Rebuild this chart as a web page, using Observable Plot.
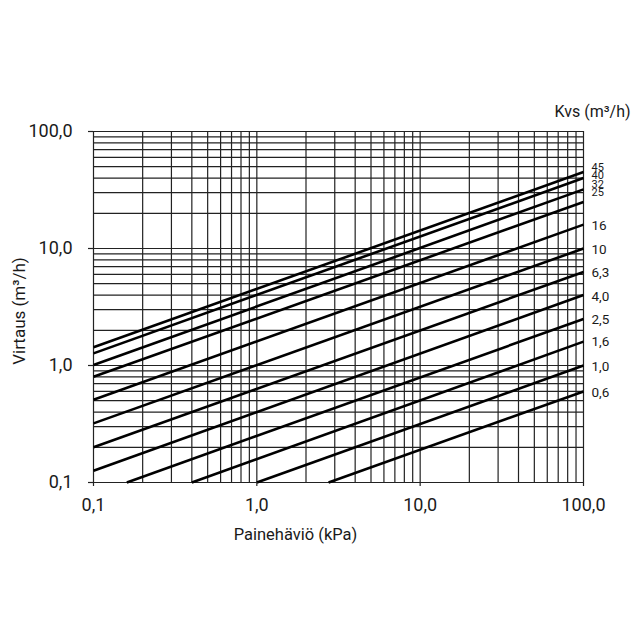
<!DOCTYPE html>
<html>
<head>
<meta charset="utf-8">
<script src="https://cdn.jsdelivr.net/npm/d3@7"></script>
<script src="https://cdn.jsdelivr.net/npm/@observablehq/plot@0.6"></script>
<style>
  html, body { margin: 0; padding: 0; background: #fff; }
  svg { display: block; }
</style>
</head>
<body>
<script>
// Kvs valve curves
const kvsLabels = ["45", "40", "32", "25", "16", "10", "6,3", "4,0", "2,5", "1,6", "1,0", "0,6"];
const startDp   = [0.1, 0.1, 0.1, 0.1, 0.1, 0.1, 0.1, 0.1, 0.16, 0.40, 1.0, 2.75];
const startFlow = [1.43, 1.27, 1.01, 0.80, 0.51, 0.32, 0.20, 0.126, 0.1, 0.1, 0.1, 0.1];
const endDp     = [100, 100, 100, 100, 100, 100, 100, 100, 100, 100, 100, 100];
const endFlow   = [45, 40, 32, 25, 16, 10, 6.3, 4.0, 2.5, 1.6, 1.0, 0.6];

// grid lines and axis ticks
const gridValues = [0.1, 0.2, 0.3, 0.4, 0.5, 0.6, 0.7, 0.8, 0.9,
                    1, 2, 3, 4, 5, 6, 7, 8, 9,
                    10, 20, 30, 40, 50, 60, 70, 80, 90, 100];
const tickValues = [0.1, 1, 10, 100];
const tickLabels = ["0,1", "1,0", "10,0", "100,0"];

const xLabel = "Painehäviö (kPa)";
const yLabel = "Virtaus (m³/h)";
const legendTitle = "Kvs (m³/h)";

const curves = kvsLabels.map((k, i) => ({
  label: k, x1: startDp[i], y1: startFlow[i], x2: endDp[i], y2: endFlow[i]
}));

// label nudges for the crowded top labels (pixels) and font sizes
const labelNudge = {"45": -4.8, "40": -2.3, "32": -5.4, "25": -9.8, "16": 1, "10": 1, "6,3": 1, "4,0": 1.5, "2,5": 1, "1,6": 0, "1,0": 1, "0,6": 1};
const smallLabels = new Set(["45", "40", "32", "25"]);

const fmt = d => tickLabels[tickValues.indexOf(d)];

const labelMarks = curves.map(d => Plot.text([d], {
  x: "x2", y: "y2", text: "label", dx: 8, dy: labelNudge[d.label],
  textAnchor: "start", lineAnchor: "middle",
  fontSize: smallLabels.has(d.label) ? 11 : 13.5, fill: "#1a1a1a"
}));

const chart = Plot.plot({
  width: 640,
  height: 640,
  marginTop: 131,
  marginRight: 57,
  marginBottom: 158,
  marginLeft: 93,
  style: {fontFamily: "Roboto, sans-serif", fontSize: "18px", color: "#1a1a1a", background: "#fff"},
  x: {type: "log", domain: [0.1, 100]},
  y: {type: "log", domain: [0.1, 100]},
  marks: [
    Plot.ruleX(gridValues, {stroke: "#222", strokeWidth: 1.2}),
    Plot.ruleY(gridValues, {stroke: "#222", strokeWidth: 1.2}),
    Plot.link(curves, {x1: "x1", y1: "y1", x2: "x2", y2: "y2", stroke: "#000", strokeWidth: 2.6}),
    Plot.axisX({ticks: tickValues, tickFormat: fmt, tickSize: 4, tickPadding: 12, label: null, stroke: "#222", strokeWidth: 1.2}),
    Plot.axisY({ticks: tickValues, tickFormat: fmt, tickSize: 5, tickPadding: 16, label: null, stroke: "#222", strokeWidth: 1.2}),
    ...labelMarks,
    Plot.text([legendTitle], {frameAnchor: "top-right", dx: 9, dy: -20, textAnchor: "middle", lineAnchor: "middle", fontSize: 16, fill: "#1a1a1a"}),
    Plot.text([xLabel], {frameAnchor: "bottom", dx: -43, dy: 52, textAnchor: "middle", lineAnchor: "middle", fontSize: 16.5, fill: "#1a1a1a"}),
    Plot.text([yLabel], {frameAnchor: "left", dx: -74, dy: 4, rotate: -90, textAnchor: "middle", lineAnchor: "middle", fontSize: 17, fill: "#1a1a1a"})
  ]
});
document.body.appendChild(chart);
</script>
</body>
</html>
